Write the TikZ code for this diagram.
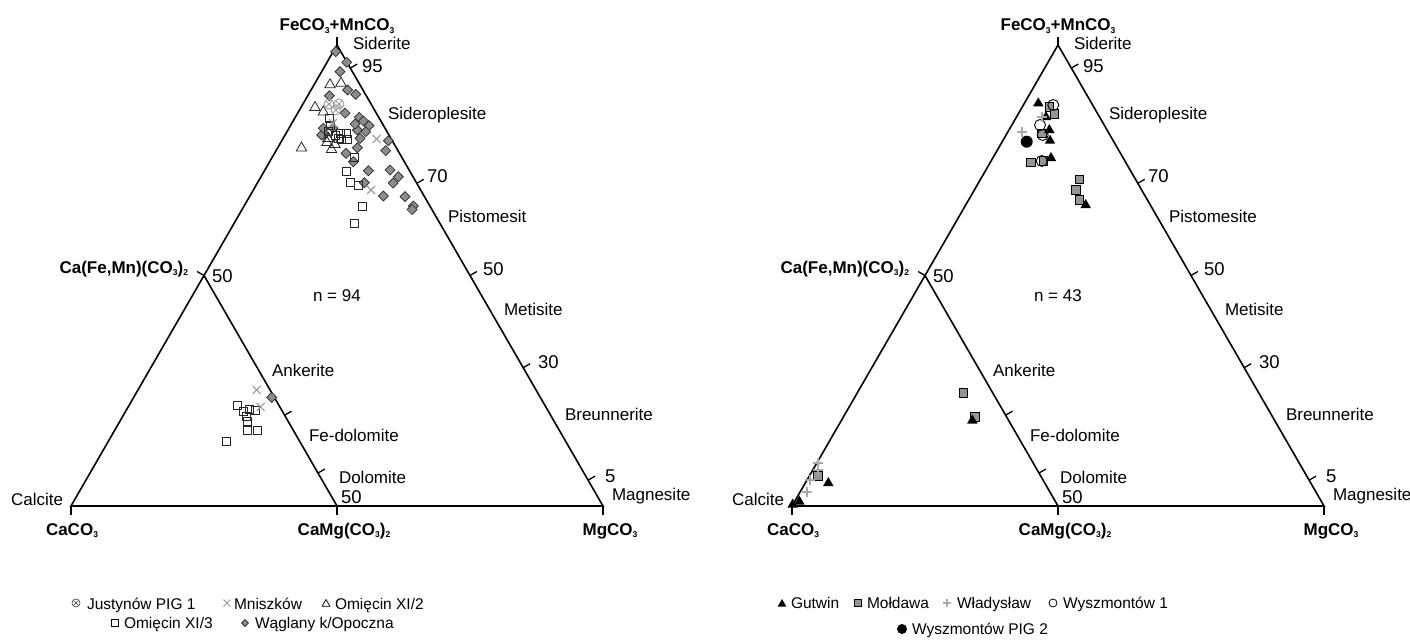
\documentclass[tikz,border=0pt]{standalone}
\usepackage{fontspec}
\setmainfont{Liberation Sans}
\usetikzlibrary{shapes.geometric,shapes.misc,calc}
\newcommand{\sbs}[1]{\raisebox{-0.25ex}{\fontsize{8.5}{8.5}\selectfont #1}}
\newcommand{\lab}{\fontsize{17}{20}\selectfont}
\newcommand{\numf}{\fontsize{18.5}{20}\selectfont}
\newcommand{\blab}{\fontsize{17}{19}\selectfont\bfseries}
\newcommand{\legf}{\fontsize{15.5}{18}\selectfont}
\definecolor{dgray}{HTML}{8C8C8C}
\definecolor{xgray}{HTML}{9A9A9A}
\definecolor{pgray}{HTML}{A8A8A8}
\definecolor{sgray}{HTML}{959595}
\begin{document}
\begin{tikzpicture}[x=1pt,y=-1pt,
  tri/.style={line width=1.6pt, line join=miter},
  tck/.style={line width=1.3pt},
  txt/.style={inner sep=0pt, outer sep=0pt, anchor=base west},
  txe/.style={inner sep=0pt, outer sep=0pt, anchor=base east},
  txc/.style={inner sep=0pt, outer sep=0pt, anchor=base},
  mk/.style={inner sep=0pt, outer sep=0pt},
  dia/.style={mk, diamond, draw=black!85, fill=dgray, line width=0.7pt, minimum width=10pt, minimum height=10pt},
  osq/.style={mk, rectangle, draw=black!85, line width=0.9pt, minimum size=8pt},
  otri/.style={mk, regular polygon, regular polygon sides=3, draw=black!85, line width=0.8pt, minimum size=12pt},
  gx/.style={mk, cross out, draw=xgray, line width=1.1pt, minimum size=8pt},
  ccirc/.style={mk, circle, draw=xgray, line width=0.9pt, minimum size=10pt},
  ccross/.style={mk, cross out, draw=xgray, line width=0.8pt, minimum size=6pt},
  btri/.style={mk, regular polygon, regular polygon sides=3, fill=black, minimum size=12pt},
  gsq/.style={mk, rectangle, draw=black, fill=sgray, line width=0.8pt, minimum size=8.5pt},
  ocirc/.style={mk, circle, draw=black, line width=0.9pt, minimum size=11pt},
  bcirc/.style={mk, circle, fill=black, minimum size=12pt},
  gplus/.style={draw=pgray, line width=2pt}
]
\useasboundingbox (0,0) rectangle (1410,642);
\fill[white] (0,0) rectangle (1410,642);

% ---------- both triangles ----------
\foreach \ox in {0,721}{
\begin{scope}[shift={(\ox,0)}]
  \coordinate (A) at (71,506);
  \coordinate (B) at (603,506);
  \coordinate (C) at (337,45);
  \coordinate (M) at (204,275.5);
  \coordinate (D) at (337,506);
  \draw[tri] (A) -- (B) -- (C) -- cycle;
  \draw[tri] (M) -- (D);
  \draw[tck] (C) -- ++(0,-8);
  \draw[tck] (A) -- ++(0,9);
  \draw[tck] (D) -- ++(0,9);
  \draw[tck] (B) -- ++(0,9);
  \draw[tck] (M) -- ++(-6.9,-4);
  \foreach \t in {0.05,0.3,0.5,0.7,0.944}{
    \draw[tck] ($(C)!\t!(B)$) -- ++(6.9,-4);
  }
  \foreach \s in {0.606,0.857}{
    \draw[tck] ($(M)!\s!(D)$) -- ++(6.9,-4);
  }
\end{scope}
}

% ---------- left labels ----------
\node[txc] (lfe) at (337,31) {\blab FeCO\sbs{3}+MnCO\sbs{3}};
\node[txt] (lsid) at (353,50) {\lab Siderite};
\node[txt] (l95) at (362,72) {\numf 95};
\node[txt] (lsdp) at (388,119) {\lab Sideroplesite};
\node[txt] (l70) at (427,182) {\numf 70};
\node[txt] (lpis) at (448,222) {\lab Pistomesit};
\node[txt] (l50r) at (483,275) {\numf 50};
\node[txt] (lmet) at (504,315) {\lab Metisite};
\node[txt] (l30) at (538,368) {\numf 30};
\node[txt] (lbre) at (565,420) {\lab Breunnerite};
\node[txt] (l5) at (605,482) {\numf 5};
\node[txt] (lmag) at (612,500) {\lab Magnesite};
\node[txe] (lcfm) at (188,273) {\blab Ca(Fe,Mn)(CO\sbs{3})\sbs{2}};
\node[txt] (l50l) at (212,282) {\numf 50};
\node[txt] (ln) at (313,301) {\lab n = 94};
\node[txt] (lank) at (272,376) {\lab Ankerite};
\node[txt] (lfed) at (309,441) {\lab Fe-dolomite};
\node[txt] (ldol) at (339,483) {\lab Dolomite};
\node[txt] (l50b) at (341,503) {\numf 50};
\node[txe] (lcal) at (63,505) {\lab Calcite};
\node[txc] (lcac) at (72,535) {\blab CaCO\sbs{3}};
\node[txc] (lcam) at (344,535) {\blab CaMg(CO\sbs{3})\sbs{2}};
\node[txc] (lmgc) at (610,535) {\blab MgCO\sbs{3}};

% ---------- right labels ----------
\node[txc] (rfe) at (1058,31) {\blab FeCO\sbs{3}+MnCO\sbs{3}};
\node[txt] (rsid) at (1074,50) {\lab Siderite};
\node[txt] (r95) at (1083,72) {\numf 95};
\node[txt] (rsdp) at (1109,119) {\lab Sideroplesite};
\node[txt] (r70) at (1148,182) {\numf 70};
\node[txt] (rpis) at (1169,222) {\lab Pistomesite};
\node[txt] (r50r) at (1204,275) {\numf 50};
\node[txt] (rmet) at (1225,315) {\lab Metisite};
\node[txt] (r30) at (1259,368) {\numf 30};
\node[txt] (rbre) at (1286,420) {\lab Breunnerite};
\node[txt] (r5) at (1326,482) {\numf 5};
\node[txt] (rmag) at (1333,500) {\lab Magnesite};
\node[txe] (rcfm) at (909,273) {\blab Ca(Fe,Mn)(CO\sbs{3})\sbs{2}};
\node[txt] (r50l) at (933,282) {\numf 50};
\node[txt] (rn) at (1034,301) {\lab n = 43};
\node[txt] (rank) at (993,376) {\lab Ankerite};
\node[txt] (rfed) at (1030,441) {\lab Fe-dolomite};
\node[txt] (rdol) at (1060,483) {\lab Dolomite};
\node[txt] (r50b) at (1062,503) {\numf 50};
\node[txe] (rcal) at (784,505) {\lab Calcite};
\node[txc] (rcac) at (793,535) {\blab CaCO\sbs{3}};
\node[txc] (rcam) at (1065,535) {\blab CaMg(CO\sbs{3})\sbs{2}};
\node[txc] (rmgc) at (1331,535) {\blab MgCO\sbs{3}};

% ---------- left data ----------
\foreach \x/\y in {335.7/51.7,346.7/62.3,340/71.7,347.7/90,355.7/94.3,329.3/95.7,345/113,359.3/117.3,
  363.5/121,369/125.7,365.7/131.7,357.3/130,355/124,360/138.3,388.3/140.7,385.7/150.7,357.3/147.7,
  346/153.3,353.3/161.7,368.3/170.7,390/170,398.3/176.7,393/183,364.3/182.7,383.3/196,405/196.7,
  413.3/206,412/209.5,325/134,321.7/135,323.3/128.3,333/128,271.7/397.3}
  \node[dia] at (\x,\y) {};
\foreach \x/\y in {330/83.3,341/81.7,315/106,323.3/110.5,301.5/146.5,327/141,331.5/148,328/137,335/143}
  \node[otri] at (\x,\y+1.5) {};
\foreach \x/\y in {329.3/118.3,330/125,340/133.3,346.7/133.3,341.7/139.3,347.3/139.3,328.3/131.7,335/135,
  338.3/138.3,354.3/157.7,346.7/171.7,350/182.3,358.3/185,362.7/206.7,354.3/223.3,
  237.5/405,243.3/411.7,249.3/409.3,255/410,246.7/416.7,247.3/421.7,247.3/430,257/430,226.7/441.7}
  \node[osq] at (\x,\y) {};
\foreach \x/\y in {376.7/139,371/190,333/123,256.7/390,260.7/407}
  \node[gx] at (\x,\y) {};
\foreach \x/\y in {329/104,339/104,336/110}{
  \node[ccirc] at (\x,\y) {};
  \node[ccross] at (\x,\y) {};
}

% ---------- right data ----------
\foreach \x/\y in {1049.3/106.7,1054.3/114,1041.7/133.3,1031/162.3,1043.3/161,1079.3/179.3,1076/190,
  1079.3/200,963.3/392.7,975/416.7,817.7/476}
  \node[gsq] at (\x,\y) {};
\foreach \x/\y in {1053.3/105,1040/125,1042.7/135,1041.7/161}
  \node[ocirc] at (\x,\y) {};
\foreach \x/\y in {1038.3/103.3,1046/117,1049.3/130,1050/140.7,1051/158,1085.7/205,972.3/420.5,
  828.3/483,799.3/501.5,792.7/504.5}
  \node[btri] at (\x,\y) {};
\foreach \x/\y in {1041.7/117,1022.3/131.7,818.3/462.7,818.3/469.5,810/480,806.5/491.7}
  \draw[gplus] (\x,\y) +(-5,0) -- +(5,0) +(0,-5) -- +(0,5);
\node[bcirc] at (1026.7,141.7) {};

% ---------- left legend ----------
\node[mk, circle, draw=black!80, line width=0.6pt, minimum size=8pt] (lg1) at (76,603) {};
\node[mk, cross out, draw=black!80, line width=0.6pt, minimum size=5pt] at (76,603) {};
\node[txt] (lt1) at (87,609) {\legf Justynów PIG 1};
\node[mk, cross out, draw=xgray, line width=0.9pt, minimum size=7pt] (lg2) at (227,603) {};
\node[txt] (lt2) at (234,609) {\legf Mniszków};
\node[mk, regular polygon, regular polygon sides=3, draw=black, line width=0.7pt, minimum size=9pt] (lg3) at (326,604) {};
\node[txt] (lt3) at (335,609) {\legf Omięcin XI/2};
\node[mk, rectangle, draw=black, line width=0.7pt, minimum size=6.5pt] (lg4) at (115,623) {};
\node[txt] (lt4) at (124,628) {\legf Omięcin XI/3};
\node[mk, diamond, draw=black, fill=dgray, line width=0.6pt, minimum width=7pt, minimum height=7pt] (lg5) at (245,623) {};
\node[txt] (lt5) at (255,628) {\legf Wąglany k/Opoczna};

% ---------- right legend ----------
\node[mk, regular polygon, regular polygon sides=3, fill=black, minimum size=10pt] (rg1) at (782,604) {};
\node[txt] (rt1) at (791,608) {\legf Gutwin};
\node[mk, rectangle, draw=black, fill=sgray, line width=0.7pt, minimum size=7pt] (rg2) at (858,603) {};
\node[txt] (rt2) at (867,608) {\legf Mołdawa};
\draw[draw=pgray, line width=1.6pt] (947,603) +(-4,0) -- +(4,0) +(0,-4) -- +(0,4);
\node[txt] (rt3) at (957,608) {\legf Władysław};
\node[mk, circle, draw=black, line width=0.8pt, minimum size=8pt] (rg4) at (1053,603) {};
\node[txt] (rt4) at (1063,608) {\legf Wyszmontów 1};
\node[mk, circle, fill=black, minimum size=10pt] (rg5) at (902,629) {};
\node[txt] (rt5) at (912,634) {\legf Wyszmontów PIG 2};
\end{tikzpicture}
\end{document}
